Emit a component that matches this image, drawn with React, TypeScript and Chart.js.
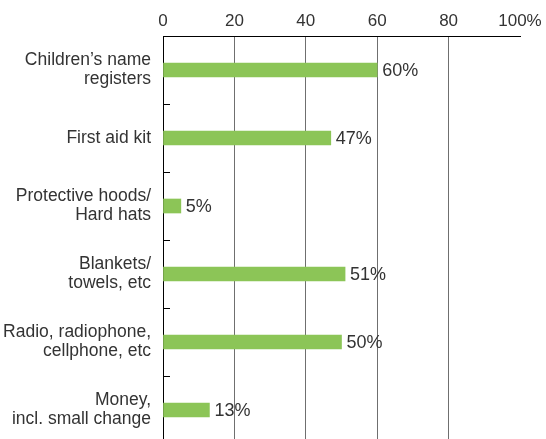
import React, { useEffect, useRef } from "react";
import { Chart, registerables } from "chart.js";

Chart.register(...registerables);

const categories: string[][] = [
  ["Children\u2019s name", "registers"],
  ["First aid kit"],
  ["Protective hoods/", "Hard hats"],
  ["Blankets/", "towels, etc"],
  ["Radio, radiophone,", "cellphone, etc"],
  ["Money,", "incl. small change"],
];
const values: number[] = [60, 47, 5, 51, 50, 13];
const valueLabels: string[] = ["60%", "47%", "5%", "51%", "50%", "13%"];
const xTickLabels: string[] = ["0", "20", "40", "60", "80", "100%"];

const FONT = "'Liberation Sans', Arial, sans-serif";

const extrasPlugin = {
  id: "extras",
  afterDatasetsDraw(chart: any) {
    const ctx = chart.ctx;
    const y = chart.scales.y;
    const area = chart.chartArea;
    ctx.save();
    ctx.strokeStyle = "#000";
    ctx.lineWidth = 1;
    const n = categories.length;
    for (let i = 1; i <= n; i++) {
      const p = Math.round((y.getPixelForValue(i - 1) + y.getPixelForValue(i)) / 2) + 0.5;
      ctx.beginPath();
      ctx.moveTo(area.left, p);
      ctx.lineTo(area.left + 7, p);
      ctx.stroke();
    }
    const meta = chart.getDatasetMeta(0);
    ctx.fillStyle = "#333";
    ctx.font = `18px ${FONT}`;
    ctx.textAlign = "left";
    ctx.textBaseline = "middle";
    meta.data.forEach((bar: any, i: number) => {
      ctx.fillText(valueLabels[i], bar.x + 5, bar.y + 1);
    });
    ctx.restore();
  },
};

export default function App() {
  const ref = useRef<HTMLCanvasElement | null>(null);
  useEffect(() => {
    if (!ref.current) return;
    const chart = new Chart(ref.current, {
      type: "bar",
      data: {
        labels: categories,
        datasets: [
          {
            data: values,
            backgroundColor: "#8CC557",
            barThickness: 14,
            borderWidth: 0,
          },
        ],
      },
      options: {
        indexAxis: "y",
        responsive: false,
        animation: false,
        devicePixelRatio: 1,
        layout: { padding: { left: 0, right: 26, top: 0, bottom: 4 } },
        plugins: {
          legend: { display: false },
          tooltip: { enabled: false },
        },
        scales: {
          x: {
            position: "top",
            min: 0,
            max: 100,
            afterFit: (s: any) => {
              s.height = 36;
              s.paddingLeft = 0;
              s.paddingRight = 0;
            },
            ticks: {
              stepSize: 20,
              color: "#333",
              padding: 4,
              font: { family: FONT, size: 17 },
              callback: (_v: any, i: number) => xTickLabels[i],
            },
            grid: {
              drawTicks: false,
              color: (c: any) =>
                c.index === 0 || c.index === 5 ? "rgba(0,0,0,0)" : "#6f6f6f",
              lineWidth: 1,
            },
            border: { display: true, color: "#000", width: 1 },
          },
          y: {
            afterFit: (s: any) => {
              s.width = 163;
              s.paddingTop = 0;
              s.paddingBottom = 0;
            },
            ticks: {
              color: "#333",
              padding: 12,
              font: { family: FONT, size: 17.5, lineHeight: 1.07 },
            },
            grid: { display: false, drawTicks: false },
            border: { display: true, color: "#000", width: 1 },
          },
        },
      },
      plugins: [extrasPlugin],
    });
    return () => chart.destroy();
  }, []);
  return (
    <div
      style={{
        position: "fixed",
        left: 0,
        top: 0,
        width: 546,
        height: 439,
        overflow: "hidden",
        background: "#fff",
      }}
    >
      <canvas ref={ref} width={546} height={448} style={{ display: "block" }} />
    </div>
  );
}
